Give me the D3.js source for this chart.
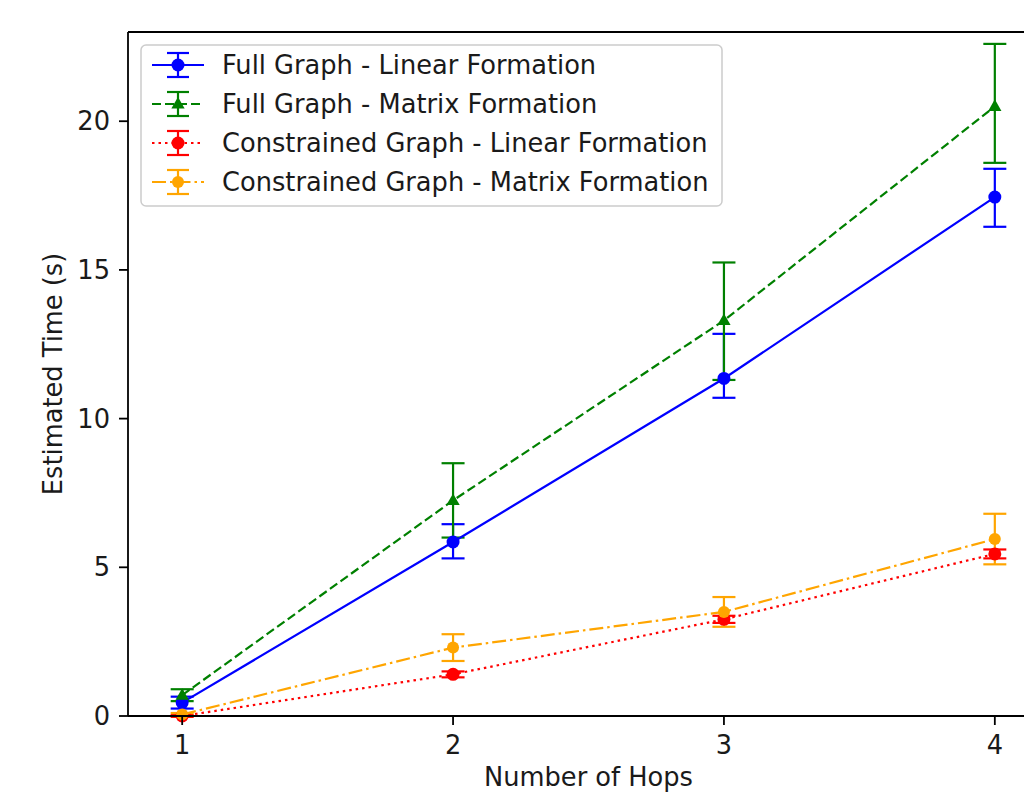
<!DOCTYPE html>
<html><head><meta charset="utf-8">
<script src="https://cdn.jsdelivr.net/npm/d3@7"></script>
<style>body{margin:0;background:#fff}svg{display:block;font-family:"DejaVu Sans",sans-serif}</style>
</head><body><svg id="c" width="1024" height="792"></svg>
<script>
const hops = [1, 2, 3, 4];
const xTicks = [1, 2, 3, 4];
const yTicks = [0, 5, 10, 15, 20];
const seriesNames = ["Full Graph - Linear Formation", "Full Graph - Matrix Formation", "Constrained Graph - Linear Formation", "Constrained Graph - Matrix Formation"];
const fullLinear = [0.45, 5.85, 11.35, 17.45];
const fullLinearErrLo = [0.2, 0.55, 0.65, 1.0];
const fullLinearErrHi = [0.2, 0.6, 1.5, 0.95];
const fullMatrix = [0.7, 7.25, 13.3, 20.5];
const fullMatrixErrLo = [0.2, 1.25, 2.0, 1.9];
const fullMatrixErrHi = [0.2, 1.25, 1.95, 2.1];
const constrLinear = [0.0, 1.4, 3.25, 5.45];
const constrLinearErrLo = [0.03, 0.1, 0.12, 0.15];
const constrLinearErrHi = [0.03, 0.1, 0.12, 0.15];
const constrMatrix = [0.05, 2.3, 3.5, 5.95];
const constrMatrixErrLo = [0.05, 0.45, 0.5, 0.85];
const constrMatrixErrHi = [0.05, 0.45, 0.5, 0.85];

const styles = [
  {color:"#0000ff", dash:null, marker:"circle", r:6.5},
  {color:"#008000", dash:"9,4", marker:"triangle", r:7},
  {color:"#ff0000", dash:"2.5,4", marker:"circle", r:6.5},
  {color:"#ffa500", dash:"14,4,2.5,4", marker:"circle", r:6}
];
const series = [
  {vals: fullLinear, lo: fullLinearErrLo, hi: fullLinearErrHi},
  {vals: fullMatrix, lo: fullMatrixErrLo, hi: fullMatrixErrHi},
  {vals: constrLinear, lo: constrLinearErrLo, hi: constrLinearErrHi},
  {vals: constrMatrix, lo: constrMatrixErrLo, hi: constrMatrixErrHi}
].map((s,i)=>Object.assign(s, styles[i], {name: seriesNames[i]}));

const L=128, R=1049, T=32, B=716;
const FS = 25.7;
const x = d3.scaleLinear().domain([0.8, 4.2]).range([L, R]);
const y = d3.scaleLinear().domain([0, 23.0]).range([B, T]);
const svg = d3.select("#c");

const plot = svg.append("g");
const cap = 11.5, lw = 2.2;

// error bars
series.forEach(s => {
  const g = plot.append("g").attr("stroke", s.color).attr("stroke-width", lw);
  hops.forEach((h,i) => {
    const cx = x(h), y1 = y(s.vals[i]-s.lo[i]), y2 = y(s.vals[i]+s.hi[i]);
    g.append("line").attr("x1",cx).attr("x2",cx).attr("y1",y1).attr("y2",y2);
    g.append("line").attr("x1",cx-cap).attr("x2",cx+cap).attr("y1",y1).attr("y2",y1);
    g.append("line").attr("x1",cx-cap).attr("x2",cx+cap).attr("y1",y2).attr("y2",y2);
  });
});

function marker(g, s, cx, cy) {
  if (s.marker === "triangle") {
    const r = s.r;
    g.append("path").attr("d", `M${cx},${cy-r} L${cx+r*0.95},${cy+r*0.65} L${cx-r*0.95},${cy+r*0.65}Z`).attr("fill", s.color);
  } else {
    g.append("circle").attr("cx",cx).attr("cy",cy).attr("r",s.r).attr("fill",s.color);
  }
}

// lines + markers
series.forEach(s => {
  const line = d3.line().x((d,i)=>x(hops[i])).y(d=>y(d));
  plot.append("path").datum(s.vals).attr("d", line).attr("fill","none")
    .attr("stroke", s.color).attr("stroke-width", lw)
    .attr("stroke-dasharray", s.dash);
  const g = plot.append("g");
  hops.forEach((h,i)=>marker(g, s, x(h), y(s.vals[i])));
});

// axes spines
const ax = svg.append("g").attr("stroke","#000").attr("stroke-width",1.8);
ax.append("line").attr("x1",L).attr("x2",L).attr("y1",T).attr("y2",B);
ax.append("line").attr("x1",L).attr("x2",R).attr("y1",B).attr("y2",B);
ax.append("line").attr("x1",L).attr("x2",R).attr("y1",T).attr("y2",T);
ax.append("line").attr("x1",R).attr("x2",R).attr("y1",T).attr("y2",B);

// ticks
xTicks.forEach(t => {
  svg.append("line").attr("x1",x(t)).attr("x2",x(t)).attr("y1",B).attr("y2",B+9).attr("stroke","#000").attr("stroke-width",1.8);
  svg.append("text").attr("x",x(t)).attr("y",B+38).attr("text-anchor","middle").attr("font-size",FS).attr("fill","#1a1a1a").text(t);
});
yTicks.forEach(t => {
  svg.append("line").attr("x1",L-9).attr("x2",L).attr("y1",y(t)).attr("y2",y(t)).attr("stroke","#000").attr("stroke-width",1.8);
  svg.append("text").attr("x",L-18).attr("y",y(t)+9).attr("text-anchor","end").attr("font-size",FS).attr("fill","#1a1a1a").text(t);
});

svg.append("text").attr("x",(L+R)/2).attr("y",786).attr("text-anchor","middle").attr("font-size",FS).attr("fill","#1a1a1a").text("Number of Hops");
svg.append("text").attr("transform",`translate(62,${(T+B)/2}) rotate(-90)`).attr("text-anchor","middle").attr("font-size",FS).attr("fill","#1a1a1a").text("Estimated Time (s)");

// legend
const lg = svg.append("g");
lg.append("rect").attr("x",141).attr("y",45).attr("width",581).attr("height",161).attr("rx",5)
  .attr("fill","#fff").attr("fill-opacity",0.8).attr("stroke","#cccccc").attr("stroke-width",1.5);
series.forEach((s,i) => {
  const cy = 65 + i*39, cx = 178;
  lg.append("line").attr("x1",152).attr("x2",204).attr("y1",cy).attr("y2",cy)
    .attr("stroke",s.color).attr("stroke-width",lw).attr("stroke-dasharray",s.dash);
  const g = lg.append("g").attr("stroke",s.color).attr("stroke-width",lw);
  g.append("line").attr("x1",cx).attr("x2",cx).attr("y1",cy-12).attr("y2",cy+12);
  g.append("line").attr("x1",cx-11).attr("x2",cx+11).attr("y1",cy-12).attr("y2",cy-12);
  g.append("line").attr("x1",cx-11).attr("x2",cx+11).attr("y1",cy+12).attr("y2",cy+12);
  marker(lg, s, cx, cy);
  lg.append("text").attr("x",222).attr("y",cy+9).attr("font-size",FS).attr("fill","#1a1a1a").text(s.name);
});
</script></body></html>
